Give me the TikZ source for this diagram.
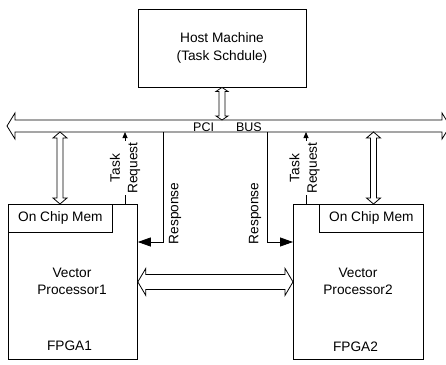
\documentclass[tikz,border=0pt]{standalone}
\usepackage{fontspec}
\setmainfont{Liberation Sans}
\usetikzlibrary{arrows.meta, calc, positioning}

% hollow two-headed arrow: from, to, half shaft, half head, head length
\newcommand\fatarrow[5]{%
  \draw[fat] (#1) -- ($(#1)!#5pt!(#2)!#4pt!90:(#2)$) -- ($(#1)!#5pt!(#2)!#3pt!90:(#2)$)
    -- ($(#2)!#5pt!(#1)!#3pt!-90:(#1)$) -- ($(#2)!#5pt!(#1)!#4pt!-90:(#1)$) -- (#2)
    -- ($(#2)!#5pt!(#1)!#4pt!90:(#1)$) -- ($(#2)!#5pt!(#1)!#3pt!90:(#1)$)
    -- ($(#1)!#5pt!(#2)!#3pt!-90:(#2)$) -- ($(#1)!#5pt!(#2)!#4pt!-90:(#2)$) -- cycle;}

\begin{document}
\begin{tikzpicture}[x=1pt, y=-1pt, line width=0.8pt,
  every node/.style={font=\fontsize{13.7}{17.5}\selectfont, align=center},
  box/.style={draw, inner sep=0pt},
  fat/.style={draw, fill=white, line join=miter},
  rlbl/.style={rotate=90, inner sep=1pt},
  req/.style={-{Triangle[length=6pt, width=5pt]}},
  resp/.style={-{Triangle[length=13pt, width=9pt]}}]
\useasboundingbox (0,0) rectangle (446,364);

% PCI bus
\coordinate (busL) at (7,126);
\coordinate (busR) at (450,126);
\fatarrow{busL}{busR}{6}{13}{8}
\node[font=\fontsize{12.5}{14}\selectfont, inner sep=0pt] (buslbl) at (227.5,127) {PCI\hspace{22pt}BUS};

% host
\node[box, minimum width=168, minimum height=78] (host) at (222,48) {Host Machine\\(Task Schdule)};
\coordinate (h1) at (222,120);
\fatarrow{host.south}{h1}{3}{6}{4}

% FPGAs
\node[box, minimum width=129, minimum height=155, anchor=north west] (fpga1) at (8,204) {};
\node[box, minimum width=104, minimum height=28, anchor=north west] (mem1) at (fpga1.north west) {On Chip Mem};
\node (vp1) at (72,281.5) {Vector\\Processor1};
\node (f1) at (69.5,346) {FPGA1};

\node[box, minimum width=130, minimum height=155, anchor=north west] (fpga2) at (293,204) {};
\node[box, minimum width=104, minimum height=28, anchor=north east] (mem2) at (fpga2.north east) {On Chip Mem};
\node (vp2) at (358,281.5) {Vector\\Processor2};
\node (f2) at (355.5,346.5) {FPGA2};

% bus to FPGA memories
\coordinate (v1a) at (60,132);
\coordinate (v1b) at (60,204);
\fatarrow{v1a}{v1b}{3}{7}{6}
\coordinate (v2a) at (373.5,132);
\coordinate (v2b) at (373.5,204);
\fatarrow{v2a}{v2b}{3}{7}{6}

% FPGA to FPGA
\fatarrow{fpga1.east}{fpga2.west}{7.5}{13.5}{8}

% task request and response
\coordinate (tr1a) at (125,204);
\coordinate (tr1b) at (125,132);
\draw[req] (tr1a) -- node[rlbl, fill=white] {Task\\Request} (tr1b);
\coordinate (tr2a) at (306,204);
\coordinate (tr2b) at (306,132);
\draw[req] (tr2a) -- node[xshift=-1.5pt, rlbl, fill=white] {Task\\Request} (tr2b);

\coordinate (rs1) at (163,132);
\coordinate (r1) at (fpga1.east |- 0,242);
\draw[resp] (rs1) -- node[pos=0.74, xshift=12pt, rlbl] {Response} (rs1 |- r1) -- (r1);
\coordinate (rs2) at (267,132);
\coordinate (r2) at (fpga2.west |- 0,242);
\draw[resp] (rs2) -- node[pos=0.74, xshift=-12pt, rlbl] {Response} (rs2 |- r2) -- (r2);
\end{tikzpicture}
\end{document}
